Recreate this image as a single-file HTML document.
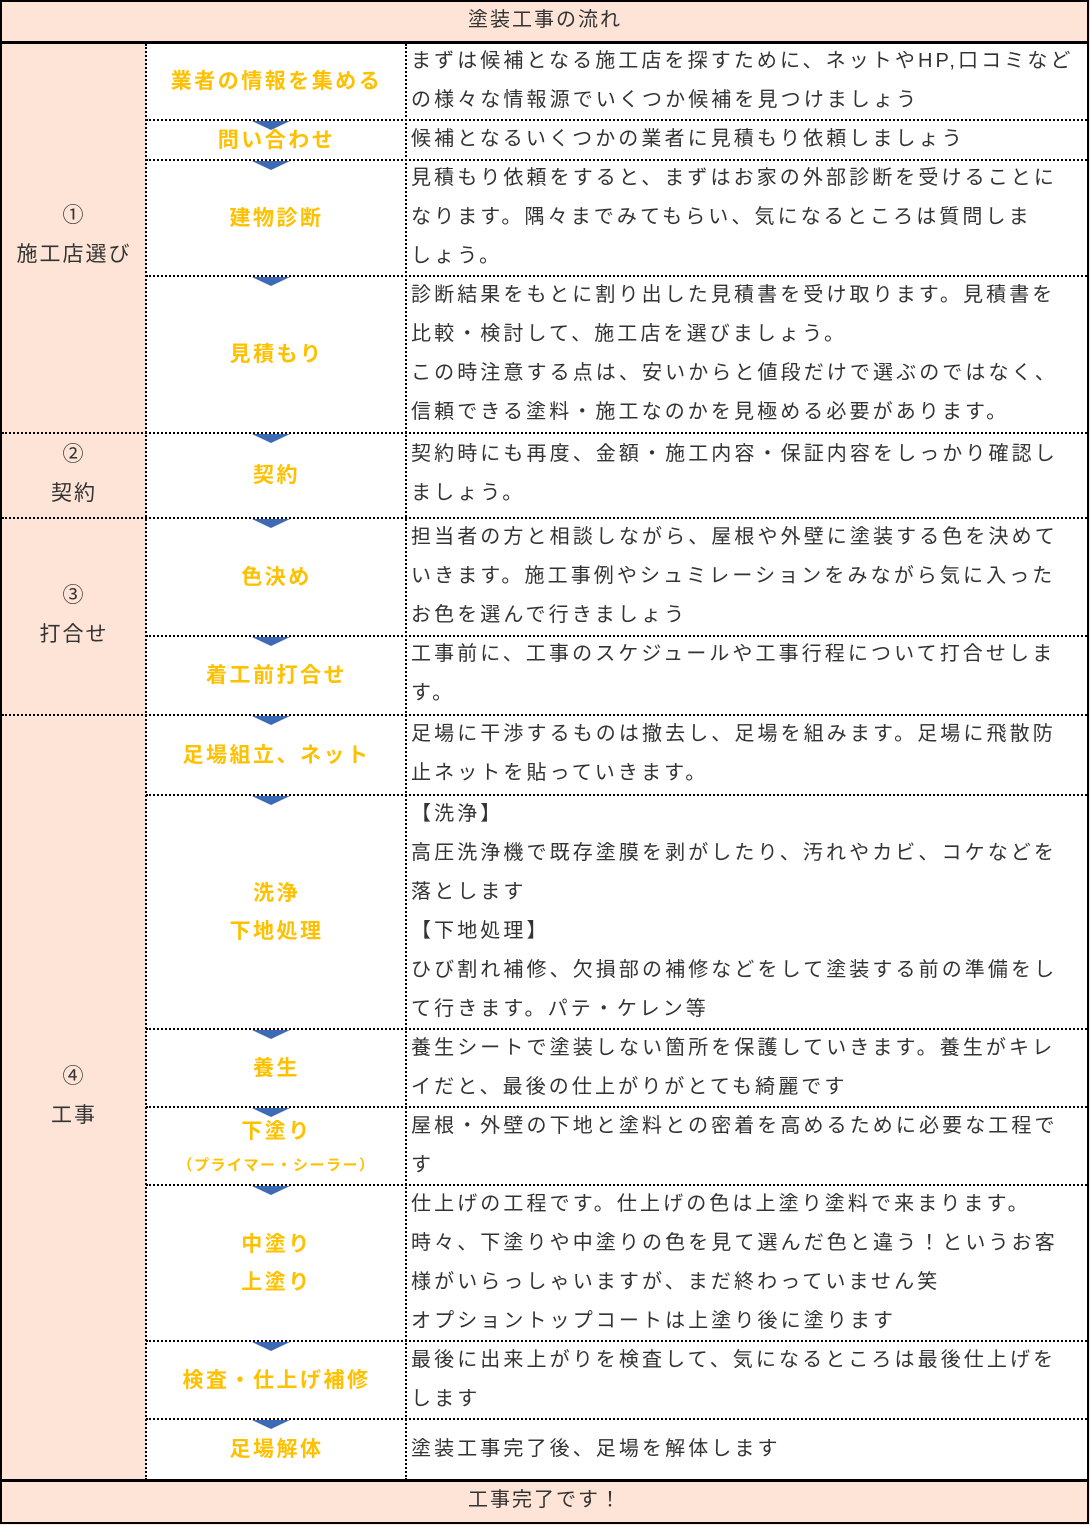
<!DOCTYPE html>
<html><head><meta charset="utf-8"><style>
body{margin:0;width:1090px;height:1525px;background:#fff;font-family:"Liberation Sans","Noto Sans CJK JP",sans-serif;position:relative;overflow:hidden}
.a{position:absolute;box-sizing:border-box}
.pk{background:#fde4d6}
.hl{position:absolute;left:146px;width:941px;border-top:2px dotted #000;height:0}
.vl{position:absolute;border-left:2px dotted #000;width:0}
.lab{position:absolute;left:147px;width:259px;display:flex;flex-direction:column;align-items:center;justify-content:center;text-align:center;color:#ffc000;font-weight:bold;font-size:21px;line-height:38px;letter-spacing:2.5px}
.d{position:absolute;left:411px;width:676px;font-size:20px;line-height:39px;letter-spacing:3.1px;color:#333;white-space:nowrap}
.sec{position:absolute;left:2px;width:144px;text-align:center;font-size:21px;line-height:39px;color:#333;letter-spacing:2px}
.arr{position:absolute;left:252px;width:0;height:0;border-left:19px solid transparent;border-right:19px solid transparent;border-top:9px solid #3d69b5}
</style></head><body>
<div class="a pk" style="left:0;top:0;width:1090px;height:1525px"></div>
<div class="a" style="left:146px;top:42px;width:941px;height:1438px;background:#fff"></div>
<div class="a" style="left:0;top:0;width:1089px;height:1524px;border:2px solid #000"></div>
<div class="a" style="left:0;top:41px;width:1089px;height:3px;background:#000"></div>
<div class="a" style="left:0;top:1479px;width:1089px;height:3px;background:#000"></div>
<div class="a" style="left:0;top:0;width:1090px;height:42px;text-align:center;line-height:40px;font-size:20px;color:#333;letter-spacing:2px">塗装工事の流れ</div>
<div class="a" style="left:0;top:1481px;width:1090px;height:42px;text-align:center;line-height:38px;font-size:20px;color:#333;letter-spacing:2px">工事完了です！</div>
<div class="vl" style="left:145px;top:44px;height:1436px"></div>
<div class="vl" style="left:405px;top:44px;height:1436px"></div>
<div class="hl" style="left:2px;width:1085px;top:432px"></div>
<div class="hl" style="left:2px;width:1085px;top:517px"></div>
<div class="hl" style="left:2px;width:1085px;top:714px"></div>
<div class="hl" style="top:119px"></div>
<div class="hl" style="top:159px"></div>
<div class="hl" style="top:275px"></div>
<div class="hl" style="top:635px"></div>
<div class="hl" style="top:794px"></div>
<div class="hl" style="top:1028px"></div>
<div class="hl" style="top:1106px"></div>
<div class="hl" style="top:1184px"></div>
<div class="hl" style="top:1340px"></div>
<div class="hl" style="top:1418px"></div>
<div class="arr" style="top:121px"></div>
<div class="arr" style="top:161px"></div>
<div class="arr" style="top:277px"></div>
<div class="arr" style="top:434px"></div>
<div class="arr" style="top:519px"></div>
<div class="arr" style="top:637px"></div>
<div class="arr" style="top:716px"></div>
<div class="arr" style="top:796px"></div>
<div class="arr" style="top:1030px"></div>
<div class="arr" style="top:1108px"></div>
<div class="arr" style="top:1186px"></div>
<div class="arr" style="top:1342px"></div>
<div class="arr" style="top:1420px"></div>
<div class="sec" style="top:196px">①<br>施工店選び</div>
<div class="sec" style="top:435px">②<br>契約</div>
<div class="sec" style="top:576px">③<br>打合せ</div>
<div class="sec" style="top:1057px">④<br>工事</div>
<div class="lab" style="top:44px;height:76px">業者の情報を集める</div>
<div class="lab" style="top:121px;height:39px">問い合わせ</div>
<div class="lab" style="top:161px;height:115px">建物診断</div>
<div class="lab" style="top:277px;height:156px">見積もり</div>
<div class="lab" style="top:434px;height:84px">契約</div>
<div class="lab" style="top:519px;height:117px">色決め</div>
<div class="lab" style="top:637px;height:78px">着工前打合せ</div>
<div class="lab" style="top:716px;height:79px">足場組立、ネット</div>
<div class="lab" style="top:796px;height:233px"><span>洗浄</span><span>下地処理</span></div>
<div class="lab" style="top:1030px;height:77px">養生</div>
<div class="lab" style="top:1108px;height:77px"><span>下塗り</span><span style="font-size:15px;line-height:30px;letter-spacing:1.5px">（プライマー・シーラー）</span></div>
<div class="lab" style="top:1186px;height:155px"><span>中塗り</span><span>上塗り</span></div>
<div class="lab" style="top:1342px;height:77px">検査・仕上げ補修</div>
<div class="lab" style="top:1420px;height:60px">足場解体</div>
<div class="d" style="top:42px">まずは候補となる施工店を探すために、ネットやHP,口コミなど<br>の様々な情報源でいくつか候補を見つけましょう</div>
<div class="d" style="top:120px">候補となるいくつかの業者に見積もり依頼しましょう</div>
<div class="d" style="top:159px">見積もり依頼をすると、まずはお家の外部診断を受けることに<br>なります。隅々までみてもらい、気になるところは質問しま<br>しょう。</div>
<div class="d" style="top:276px">診断結果をもとに割り出した見積書を受け取ります。見積書を<br>比較・検討して、施工店を選びましょう。<br>この時注意する点は、安いからと値段だけで選ぶのではなく、<br>信頼できる塗料・施工なのかを見極める必要があります。</div>
<div class="d" style="top:435px">契約時にも再度、金額・施工内容・保証内容をしっかり確認し<br>ましょう。</div>
<div class="d" style="top:518px">担当者の方と相談しながら、屋根や外壁に塗装する色を決めて<br>いきます。施工事例やシュミレーションをみながら気に入った<br>お色を選んで行きましょう</div>
<div class="d" style="top:635px">工事前に、工事のスケジュールや工事行程について打合せしま<br>す。</div>
<div class="d" style="top:715px">足場に干渉するものは撤去し、足場を組みます。足場に飛散防<br>止ネットを貼っていきます。</div>
<div class="d" style="top:795px">【洗浄】<br>高圧洗浄機で既存塗膜を剥がしたり、汚れやカビ、コケなどを<br>落とします<br>【下地処理】<br>ひび割れ補修、欠損部の補修などをして塗装する前の準備をし<br>て行きます。パテ・ケレン等</div>
<div class="d" style="top:1029px">養生シートで塗装しない箇所を保護していきます。養生がキレ<br>イだと、最後の仕上がりがとても綺麗です</div>
<div class="d" style="top:1107px">屋根・外壁の下地と塗料との密着を高めるために必要な工程で<br>す</div>
<div class="d" style="top:1185px">仕上げの工程です。仕上げの色は上塗り塗料で来まります。<br>時々、下塗りや中塗りの色を見て選んだ色と違う！というお客<br>様がいらっしゃいますが、まだ終わっていません笑<br>オプショントップコートは上塗り後に塗ります</div>
<div class="d" style="top:1341px">最後に出来上がりを検査して、気になるところは最後仕上げを<br>します</div>
<div class="d" style="top:1430px">塗装工事完了後、足場を解体します</div>
</body></html>
